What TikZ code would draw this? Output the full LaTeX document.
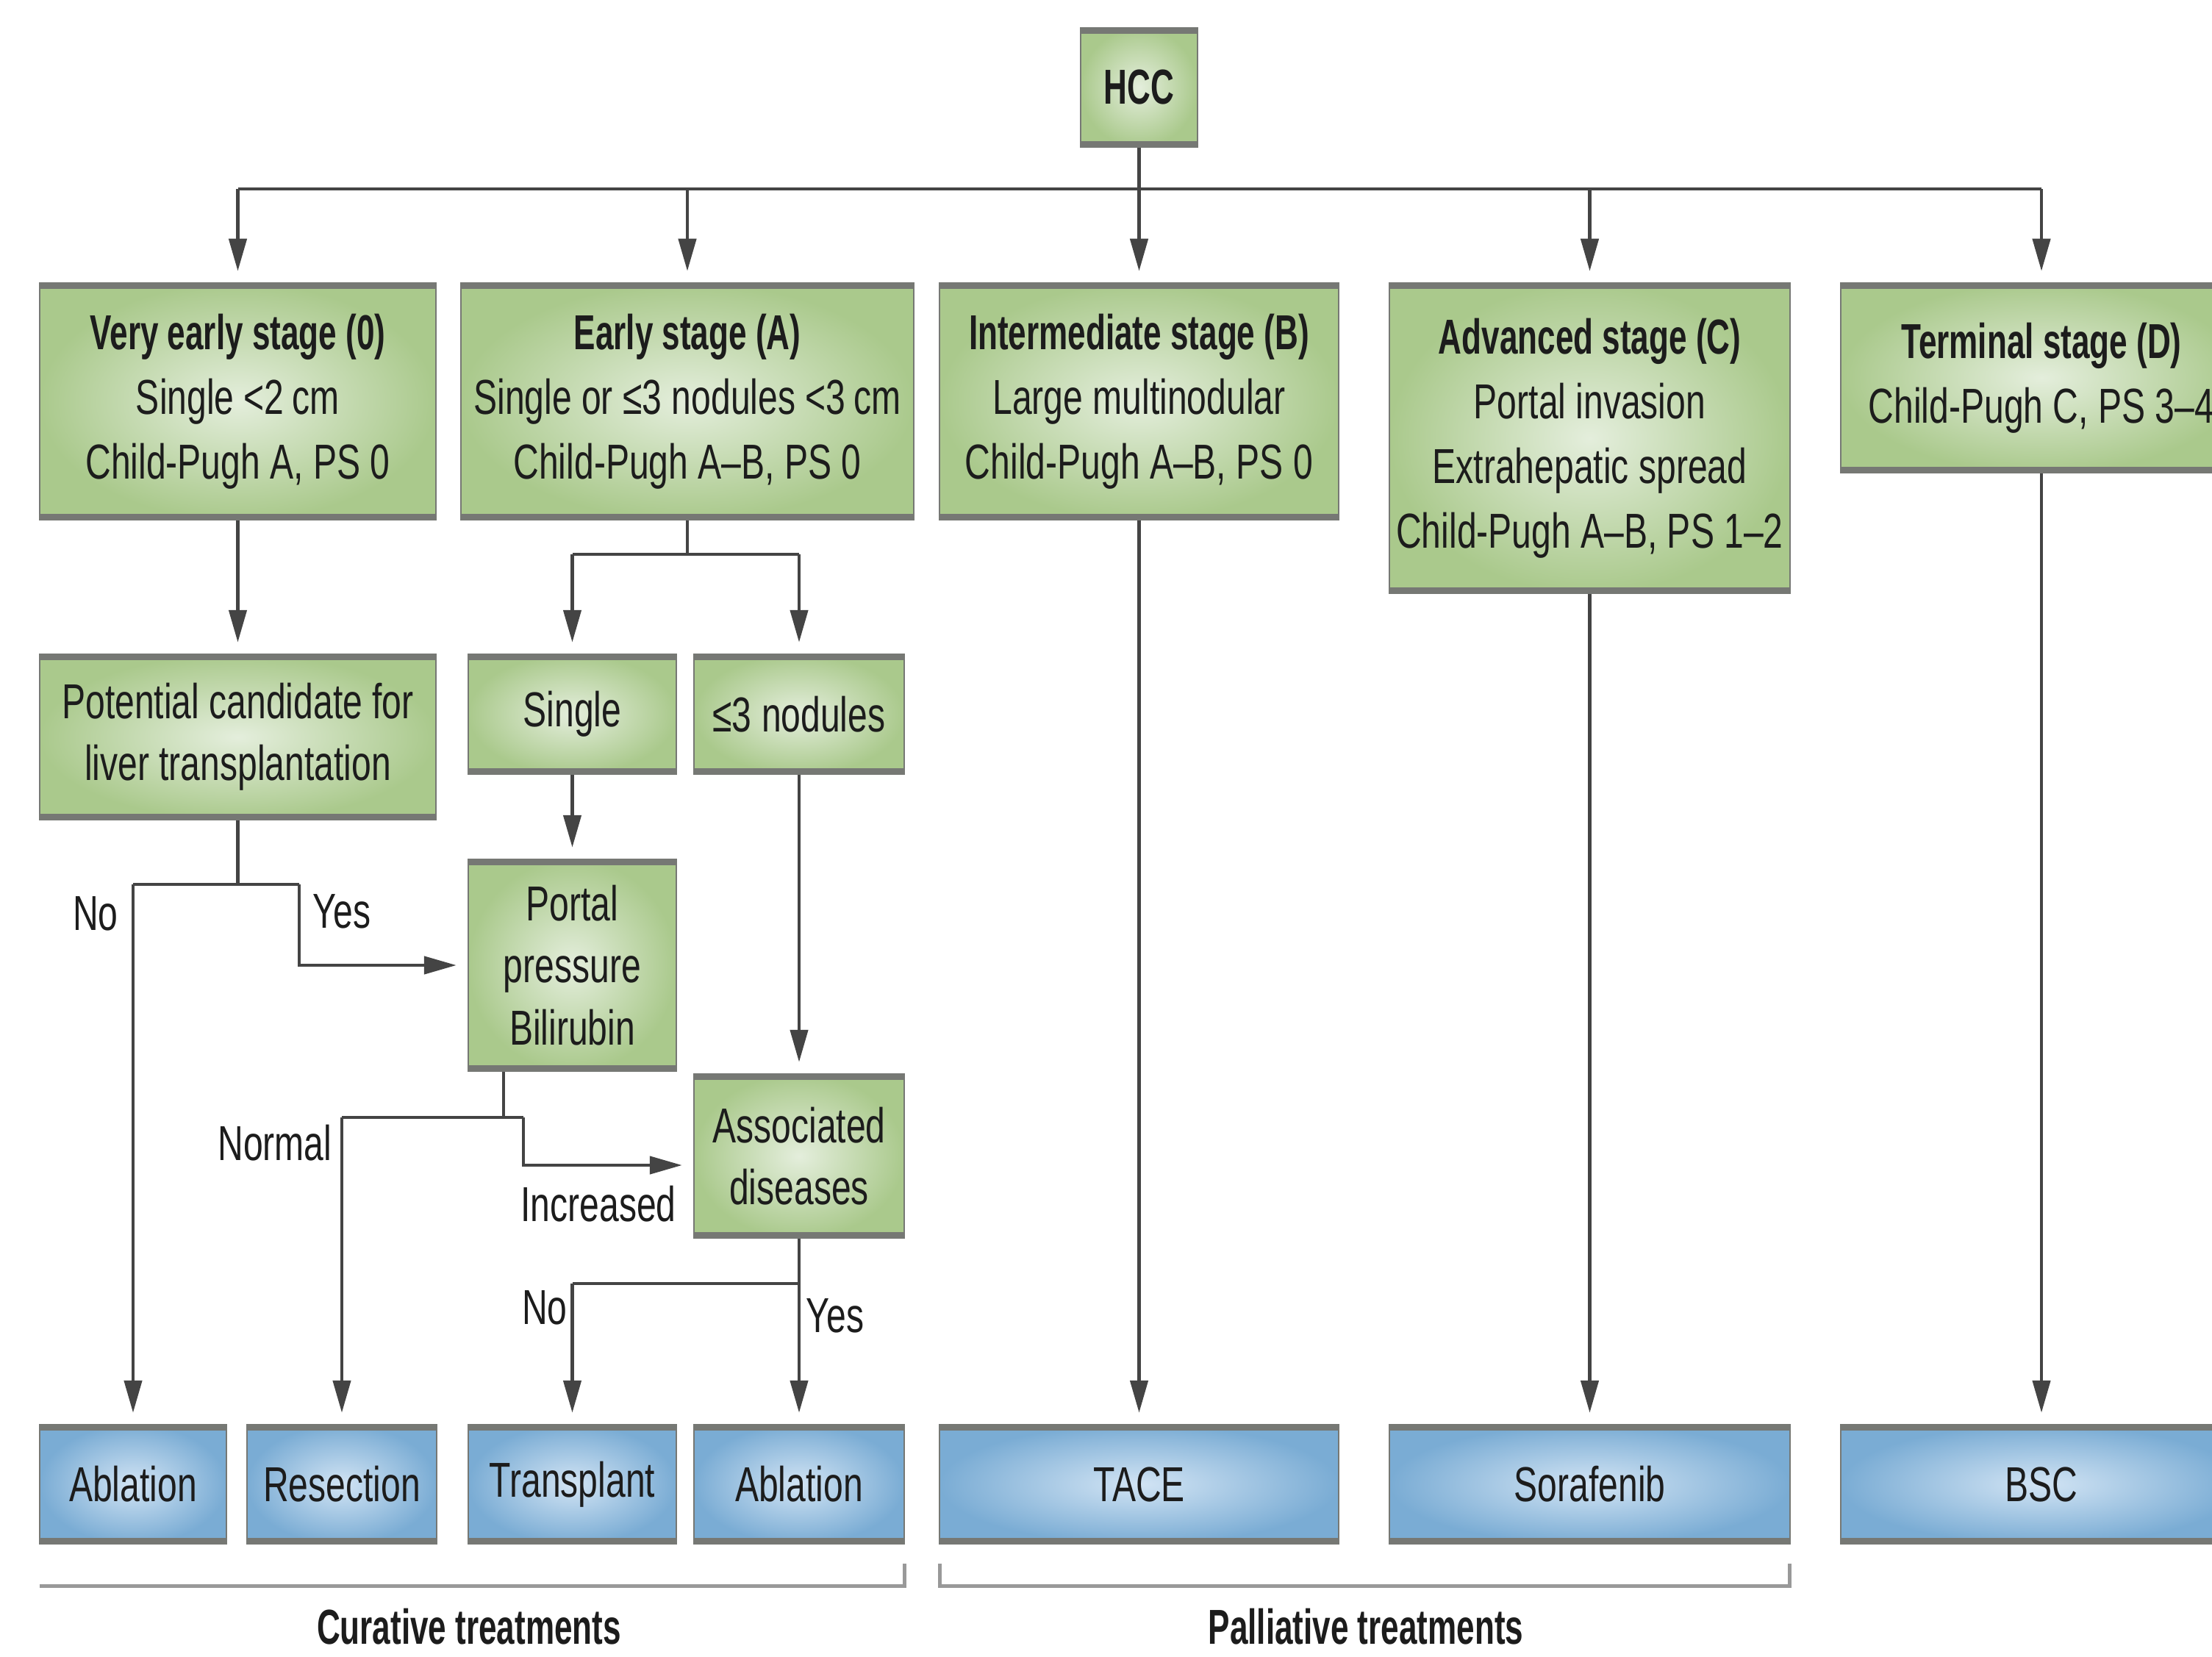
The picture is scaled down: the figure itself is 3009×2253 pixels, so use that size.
\documentclass[tikz,border=0pt]{standalone}
\usepackage{fontspec}
\setmainfont{Liberation Sans}[FakeStretch=0.72]
\newfontfamily\bcond{Liberation Sans}[FakeStretch=0.66]
\usetikzlibrary{arrows.meta}
\definecolor{gin}{RGB}{228,238,220}
\definecolor{gout}{RGB}{170,201,140}
\definecolor{bin}{RGB}{210,228,244}
\definecolor{bout}{RGB}{122,172,212}
\definecolor{band}{RGB}{118,120,116}
\definecolor{linec}{RGB}{68,68,68}
\definecolor{txt}{RGB}{28,28,28}
\tikzset{
  boxbase/.style={rectangle, inner sep=0pt, draw=band, line width=0.25mm,
    shading=radial, text=txt, align=center, font=\fontsize{19}{24}\selectfont,
    path picture={
      \fill[band] (path picture bounding box.north west) rectangle ([yshift=-0.8mm]path picture bounding box.north east);
      \fill[band] (path picture bounding box.south west) rectangle ([yshift=0.8mm]path picture bounding box.south east);}},
  gbox/.style={boxbase, inner color=gin, outer color=gout},
  stagebox/.style={gbox, font=\fontsize{19}{25}\selectfont},
  bbox/.style={boxbase, inner color=bin, outer color=bout},
  conn/.style={draw=linec, line width=0.45mm},
  arr/.style={conn, -{Triangle[length=4.4mm,width=2.4mm]}, shorten >=1.5mm},
  lbl/.style={text=txt, font=\fontsize{19}{24}\selectfont, inner sep=0pt},
  brk/.style={draw=gray!80, line width=0.5mm},
}
\begin{document}
\begin{tikzpicture}[x=0.1mm, y=-0.1mm]
\fill[white] (0,0) rectangle (3009,2253);
\useasboundingbox (0,0) rectangle (3009,2253);

% top
\node[gbox, minimum width=15.9mm, minimum height=16.2mm, font=\fontsize{19}{24}\selectfont\bcond\bfseries] (hcc) at (1549.5,119) {HCC};

% stages
\node[stagebox, minimum width=53.9mm, minimum height=32.2mm] (s0) at (323.5,546)
  {{\bcond\bfseries Very early stage (0)}\\Single <2\,cm\\Child-Pugh A, PS 0};
\node[stagebox, minimum width=61.6mm, minimum height=32.2mm] (sA) at (935,546)
  {{\bcond\bfseries Early stage (A)}\\Single or ≤3 nodules <3\,cm\\Child-Pugh A–B, PS 0};
\node[stagebox, minimum width=54.3mm, minimum height=32.2mm] (sB) at (1549.5,546)
  {{\bcond\bfseries Intermediate stage (B)}\\Large multinodular\\Child-Pugh A–B, PS 0};
\node[stagebox, minimum width=54.5mm, minimum height=42.2mm] (sC) at (2162.5,596)
  {{\bcond\bfseries Advanced stage (C)}\\Portal invasion\\Extrahepatic spread\\Child-Pugh A–B, PS 1–2};
\node[stagebox, minimum width=54.6mm, minimum height=25.8mm] (sD) at (2777,514)
  {{\bcond\bfseries Terminal stage (D)}\\Child-Pugh C, PS 3–4};

% second row
\node[gbox, minimum width=53.9mm, minimum height=22.5mm] (cand) at (323.5,1002.5)
  {Potential candidate for\\liver transplantation};
\node[gbox, minimum width=28.3mm, minimum height=16.3mm] (single) at (778.5,971.5) {Single};
\node[gbox, minimum width=28.6mm, minimum height=16.3mm] (nod) at (1087,971.5) {≤3 nodules};
\node[gbox, minimum width=28.3mm, minimum height=28.8mm] (portal) at (778.5,1313) {Portal\\pressure\\Bilirubin};
\node[gbox, minimum width=28.6mm, minimum height=22.3mm] (assoc) at (1087,1572.5) {Associated\\diseases};

% treatments
\node[bbox, minimum width=25.4mm, minimum height=16.2mm] (t1) at (181,2019) {Ablation};
\node[bbox, minimum width=25.8mm, minimum height=16.2mm] (t2) at (465,2019) {Resection};
\node[bbox, minimum width=28.3mm, minimum height=16.2mm] (t3) at (778.5,2019) {Transplant};
\node[bbox, minimum width=28.6mm, minimum height=16.2mm] (t4) at (1087,2019) {Ablation};
\node[bbox, minimum width=54.3mm, minimum height=16.2mm] (t5) at (1549.5,2019) {TACE};
\node[bbox, minimum width=54.5mm, minimum height=16.2mm] (t6) at (2162.5,2019) {Sorafenib};
\node[bbox, minimum width=54.6mm, minimum height=16.2mm] (t7) at (2777,2019) {BSC};

% bus from HCC
\coordinate (bus) at (0,257);
\draw[conn] (s0.north |- bus) -- (sD.north |- bus);
\draw[arr] (hcc.south) -- (sB.north);
\draw[arr] (s0.north |- bus) -- (s0.north);
\draw[arr] (sA.north |- bus) -- (sA.north);
\draw[arr] (sC.north |- bus) -- (sC.north);
\draw[arr] (sD.north |- bus) -- (sD.north);

% very early
\draw[arr] (s0.south) -- (cand.north);
\coordinate (splC) at (323.5,1203);
\coordinate (yesC) at (407,1203);
\draw[conn] (cand.south) -- (splC);
\draw[conn] (t1.north |- splC) -- (yesC);
\draw[arr] (t1.north |- splC) -- (t1.north);
\draw[arr] (yesC) |- (portal.west);
\node[lbl] (noC) at (130,1243) {No};
\node[lbl, anchor=west] (yesCl) at (425,1240) {Yes};

% early
\coordinate (splA) at (935,754);
\draw[conn] (sA.south) -- (splA);
\draw[conn] (single.north |- splA) -- (nod.north |- splA);
\draw[arr] (single.north |- splA) -- (single.north);
\draw[arr] (nod.north |- splA) -- (nod.north);
\draw[arr] (single.south) -- (portal.north);
\draw[arr] (nod.south) -- (assoc.north);

% portal pressure
\coordinate (splP) at (685,1520);
\coordinate (incP) at (712,1520);
\draw[conn] (splP |- portal.south) -- (splP);
\draw[conn] (t2.north |- splP) -- (incP);
\draw[arr] (t2.north |- splP) -- (t2.north);
\draw[arr] (incP) |- ([yshift=-1.25mm]assoc.west);
\node[lbl, anchor=east] (normL) at (452,1555) {Normal};
\node[lbl] (incL) at (814,1638) {Increased};

% associated diseases
\coordinate (splS) at (1087,1746);
\draw[conn] (assoc.south) -- (splS);
\draw[conn] (t3.north |- splS) -- (splS);
\draw[arr] (t3.north |- splS) -- (t3.north);
\draw[arr] (splS) -- (t4.north);
\node[lbl] (noS) at (741,1779) {No};
\node[lbl] (yesS) at (1136,1790) {Yes};

% palliative
\draw[arr] (sB.south) -- (t5.north);
\draw[arr] (sC.south) -- (t6.north);
\draw[arr] (sD.south) -- (t7.north);

% brackets
\draw[brk] (54,2157) -- (1230,2157) -- (1230,2127);
\draw[brk] (1278,2127) -- (1278,2157) -- (2434,2157) -- (2434,2127);
\node[lbl, anchor=base, font=\fontsize{19}{24}\selectfont\bcond\bfseries] (cur) at (638,2236) {Curative treatments};
\node[lbl, anchor=base, font=\fontsize{19}{24}\selectfont\bcond\bfseries] (pal) at (1858,2236) {Palliative treatments};
\end{tikzpicture}
\end{document}
